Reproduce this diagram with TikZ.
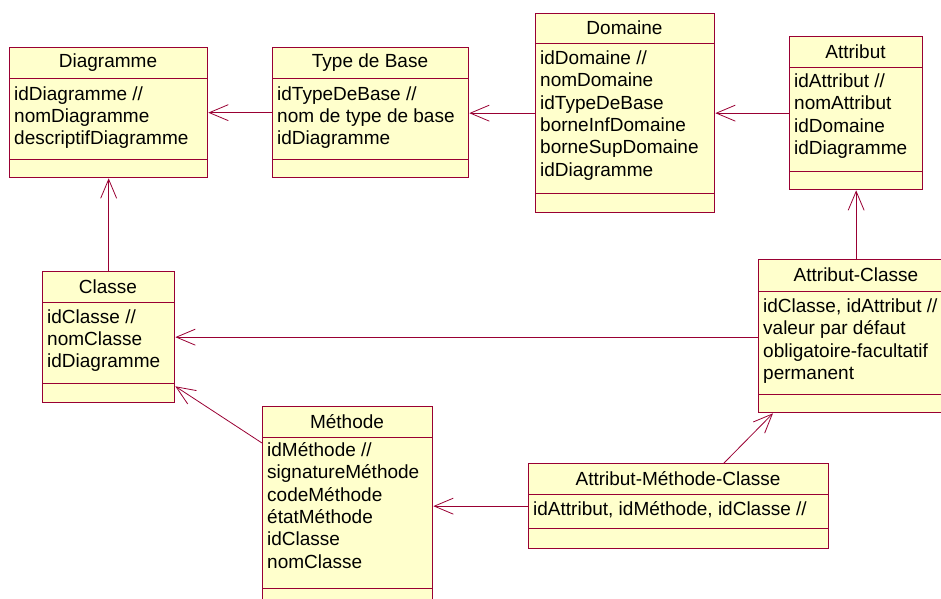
\documentclass[tikz,border=0pt]{standalone}
\usepackage{fontspec}
\setmainfont{Liberation Sans}
\usetikzlibrary{arrows.meta,calc}
\definecolor{rosered}{RGB}{153,0,51}
\definecolor{roseyellow}{RGB}{255,255,204}
\tikzset{%
    cls/.style={draw=rosered,fill=roseyellow,line width=1.3pt,inner sep=0pt,anchor=north west},
    ttl/.style={font=\fontsize{19}{22.3}\selectfont,inner sep=0pt},
    attrs/.style={font=\fontsize{19}{22.3}\selectfont,align=left,anchor=base west,inner sep=0pt},
    sep/.style={draw=rosered,line width=0.8pt},
    assoc/.style={draw=rosered,line width=0.8pt,-{Straight Barb[length=19pt,width=16pt]}}
}

\begin{document}
\begin{tikzpicture}[x=1pt,y=-1pt]
        \useasboundingbox (0,0) rectangle (941,598);

        % Diagramme
        \node[cls,minimum width=198pt,minimum height=130pt] (diag) at (9,47){};
        \draw[sep] (9,78) -- (207,78) (9,159) -- (207,159);
        \node[ttl] (diagT) at (108,62.5){Diagramme};
        \node[attrs] (diagA) at (14,144.6){idDiagramme //\\nomDiagramme\\descriptifDiagramme};

        % Type de Base
        \node[cls,minimum width=196pt,minimum height=130pt] (tb) at (272,47){};
        \draw[sep] (272,78) -- (468,78) (272,159) -- (468,159);
        \node[ttl] (tbT) at (370,62.5){Type de Base};
        \node[attrs] (tbA) at (277,144.6){idTypeDeBase //\\nom de type de base\\idDiagramme};

        % Domaine
        \node[cls,minimum width=179pt,minimum height=199pt] (dom) at (535,13){};
        \draw[sep] (535,43) -- (714,43) (535,193) -- (714,193);
        \node[ttl] (domT) at (624.5,28){Domaine};
        \node[attrs] (domA) at (540,176){idDomaine //\\nomDomaine\\idTypeDeBase\\borneInfDomaine\\borneSupDomaine\\idDiagramme};

        % Attribut
        \node[cls,minimum width=133pt,minimum height=153pt] (attr) at (789,36){};
        \draw[sep] (789,67) -- (922,67) (789,171) -- (922,171);
        \node[ttl] (attrT) at (855.5,51.5){Attribut};
        \node[attrs] (attrA) at (794,154.4){idAttribut //\\nomAttribut\\idDomaine\\idDiagramme};

        % Classe
        \node[cls,minimum width=132pt,minimum height=131pt] (cls) at (42,271){};
        \draw[sep] (42,302) -- (174,302) (42,383) -- (174,383);
        \node[ttl] (clsT) at (108,286.5){Classe};
        \node[attrs] (clsA) at (47,367.6){idClasse //\\nomClasse\\idDiagramme};

        % Attribut-Classe
        \node[cls,minimum width=196pt,minimum height=153pt] (ac) at (758,259){};
        \draw[sep] (758,291) -- (954,291) (758,394) -- (954,394);
        \node[ttl] (acT) at (856,275){Attribut-Classe};
        \node[attrs] (acA) at (763,379.4){idClasse, idAttribut //\\valeur par d\'efaut\\obligatoire-facultatif\\permanent};

        % Methode
        \node[cls,minimum width=170pt,minimum height=210pt] (meth) at (262,406){};
        \draw[sep] (262,437) -- (432,437) (262,588) -- (432,588);
        \node[ttl] (methT) at (347,421.5){M\'ethode};
        \node[attrs] (methA) at (267,568){idM\'ethode //\\signatureM\'ethode\\codeM\'ethode\\\'etatM\'ethode\\idClasse\\nomClasse};

        % Attribut-Methode-Classe
        \node[cls,minimum width=300pt,minimum height=85pt] (amc) at (528,463){};
        \draw[sep] (528,494) -- (828,494) (528,528) -- (828,528);
        \node[ttl] (amcT) at (678,478.5){Attribut-M\'ethode-Classe};
        \node[attrs] (amcA) at (533,515){idAttribut, idM\'ethode, idClasse //};

        % associations
        \draw[assoc] (tb.west) -- (diag.east);
        \draw[assoc] (dom.west) -- (dom.west -| tb.east);
        \draw[assoc] (attr.west) -- (attr.west -| dom.east);
        \draw[assoc] (cls.north) -- (diag.south);
        \draw[assoc] (ac.north -| attr.south) -- (attr.south);
        \draw[assoc] (ac.west |- cls.east) -- (cls.east);
        \draw[assoc] ($(meth.north west)+(0,37)$) -- ($(cls.south east)+(0,-17)$);
        \draw[assoc] (amc.west) -- (amc.west -| meth.east);
        \draw[assoc] ($(amc.north west)+(196,0)$) -- ($(ac.south west)+(15,0)$);
\end{tikzpicture}
\end{document}
